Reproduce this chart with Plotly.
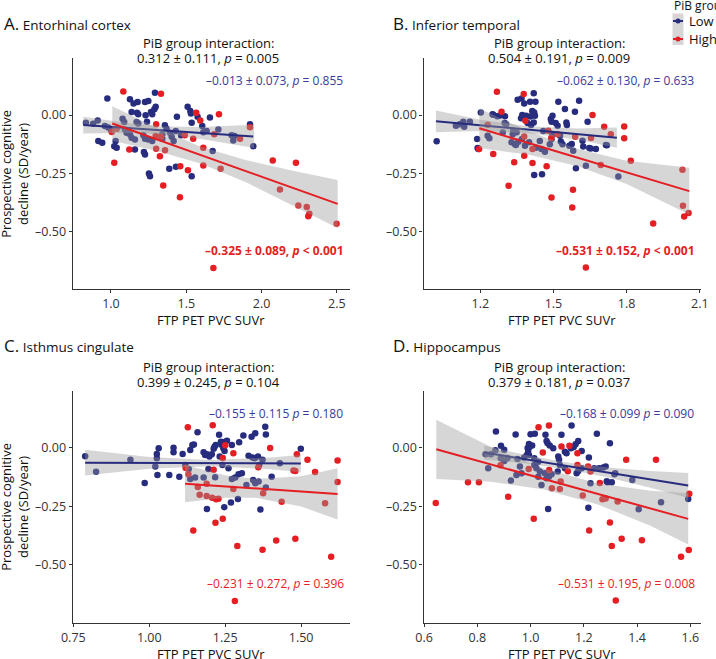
import plotly.graph_objects as go

# ---------------- DATA ----------------
# Panel A: Entorhinal cortex
A_low_x = [0.976,0.916,0.942,1.022,1.038,1.031,1.126,1.150,1.177,1.137,1.173,1.181,1.226,1.248,1.292,1.266,1.274,1.288,1.297,1.230,
           1.239,1.159,1.219,1.226,1.252,1.259,1.387,1.431,1.438,1.509,1.527,1.531,1.536,1.536,1.575,1.657,1.812,1.923,1.945,1.820,
           0.834,0.882,0.912,0.960,0.982,1.000,1.077,1.088,1.093,1.104,1.126,1.137,1.159,1.170,1.181,1.215,1.226,1.248,1.274,1.341,
           1.358,1.369,1.392,1.403,1.416,1.430,1.465,1.635,1.713,1.801,1.675,1.341,1.606,1.613]
A_low_y = [0.071,-0.112,-0.119,-0.134,-0.141,-0.112,0.068,0.050,0.056,0.013,0.010,0.004,0.056,0.060,0.096,0.013,0.003,0.025,0.036,-0.001,
           -0.029,-0.148,-0.159,-0.169,-0.251,-0.263,-0.231,-0.222,-0.007,0.036,0.017,0.007,-0.033,-0.263,-0.007,-0.011,-0.109,-0.040,-0.134,-0.090,
           -0.033,-0.037,-0.023,-0.047,-0.054,-0.062,-0.016,-0.030,-0.062,-0.076,-0.083,-0.097,-0.105,-0.030,-0.036,-0.087,-0.102,-0.105,-0.112,-0.083,
           -0.044,-0.059,-0.076,-0.093,-0.112,-0.069,-0.087,-0.069,-0.062,-0.087,-0.155,-0.102,-0.047,-0.074]
A_high_x = [1.082,1.332,1.122,1.022,1.300,1.347,1.325,1.460,1.511,1.566,1.593,1.717,1.613,1.458,1.680,2.074,2.228,2.498,2.310,2.317,
            1.038,1.005,1.300,1.297,1.332,1.490,1.546,1.613,1.728,1.686,1.857,1.359,1.923,2.122,2.244,2.300]
A_high_y = [0.101,0.092,-0.148,-0.205,-0.040,-0.303,-0.177,-0.220,-0.237,0.010,-0.023,0.003,-0.217,-0.353,-0.657,-0.195,-0.205,-0.467,-0.435,-0.424,
            -0.059,-0.073,-0.145,-0.090,-0.093,-0.087,-0.102,-0.141,-0.231,-0.083,-0.102,-0.151,-0.052,-0.320,-0.389,-0.395]
A_low_fit_x = [0.816, 1.945]
A_low_fit_y = [-0.043, -0.092]
A_low_band_x = [0.816, 1.1, 1.35, 1.6, 1.95]
A_low_band_hi = [-0.007, -0.033, -0.049, -0.051, -0.042]
A_low_band_lo = [-0.079, -0.077, -0.083, -0.103, -0.142]
A_high_fit_x = [1.009, 2.505]
A_high_fit_y = [-0.036, -0.382]
A_high_band_x = [1.009, 1.3, 1.6, 1.9, 2.2, 2.505]
A_high_band_hi = [0.038, -0.053, -0.137, -0.194, -0.238, -0.279]
A_high_band_lo = [-0.110, -0.153, -0.209, -0.290, -0.386, -0.485]

# Panel B: Inferior temporal
B_low_x = [1.021,1.192,1.253,1.202,1.270,1.301,1.353,1.369,1.380,1.404,1.426,1.419,1.413,1.421,1.405,1.424,1.388,1.372,1.367,1.394,
           1.408,1.419,1.520,1.496,1.489,1.492,1.509,1.517,1.547,1.553,1.555,1.605,1.588,1.640,1.719,1.653,1.622,1.575,1.592,1.633,
           1.421,1.453,1.766,1.530,1.300,1.306,1.335,1.349,1.328,1.342,1.356,1.383,1.458,1.444,1.451,1.465,1.492,1.485,1.100,1.116,
           1.130,1.157,1.189,1.187,1.134,1.230,1.237,1.250,1.278,1.292,1.333,1.346,1.371,1.400,1.428,1.496,1.527,1.537,1.565,1.581,
           1.619,1.647,1.674,1.715]
B_low_y = [-0.113,-0.146,0.001,0.011,-0.005,-0.005,0.066,0.071,0.050,0.057,0.057,0.094,0.017,0.011,-0.006,-0.003,-0.003,0.000,-0.014,-0.034,
           -0.043,-0.032,0.057,-0.003,-0.017,-0.029,-0.034,-0.046,0.026,-0.032,-0.043,0.061,0.014,-0.029,-0.130,-0.144,-0.135,-0.124,-0.229,-0.218,
           -0.258,-0.254,-0.264,-0.114,-0.034,-0.039,-0.068,-0.074,-0.117,-0.125,-0.115,-0.132,-0.068,-0.111,-0.146,-0.158,-0.103,-0.125,-0.046,-0.039,
           -0.029,-0.029,-0.142,-0.103,-0.050,-0.089,-0.100,0.004,-0.003,-0.075,-0.082,-0.129,-0.103,-0.117,-0.140,-0.082,-0.089,-0.125,-0.132,-0.153,
           -0.110,-0.142,-0.146,-0.129]
B_high_x = [1.268,1.378,1.287,1.385,1.253,1.195,1.339,1.316,1.414,1.472,1.492,1.580,1.577,1.491,1.660,1.708,1.790,1.790,1.909,1.633,
            2.036,2.054,1.380,1.230,1.380,1.414,1.479,1.517,1.589,1.654,1.694,1.735,1.817,2.029,2.031]
B_high_y = [0.100,0.090,0.014,-0.024,-0.167,-0.146,-0.203,-0.304,-0.206,-0.220,-0.354,-0.321,-0.397,-0.099,0.000,-0.050,-0.049,-0.100,-0.466,-0.655,
            -0.436,-0.421,-0.175,-0.042,-0.092,-0.146,-0.067,-0.082,-0.093,-0.099,-0.215,-0.082,-0.196,-0.235,-0.390]
B_low_fit_x = [1.018, 1.76]
B_low_fit_y = [-0.027, -0.097]
B_low_band_x = [1.018, 1.2, 1.4, 1.6, 1.76]
B_low_band_hi = [0.020, -0.020, -0.048, -0.058, -0.054]
B_low_band_lo = [-0.074, -0.068, -0.078, -0.106, -0.140]
B_high_fit_x = [1.196, 2.057]
B_high_fit_y = [-0.057, -0.327]
B_high_band_x = [1.196, 1.4, 1.6, 1.8, 2.057]
B_high_band_hi = [0.028, -0.071, -0.146, -0.196, -0.227]
B_high_band_lo = [-0.142, -0.171, -0.220, -0.296, -0.427]

# Panel C: Isthmus cingulate
C_low_x = [0.789,0.825,0.938,0.985,1.025,1.025,1.031,1.020,1.027,1.066,1.080,1.080,1.099,1.110,1.135,1.142,1.147,1.159,1.179,1.184,
           1.190,1.198,1.206,1.212,1.215,1.219,1.230,1.236,1.239,1.244,1.248,1.250,1.256,1.272,1.296,1.310,1.337,1.349,1.382,1.384,
           1.327,1.340,1.347,1.358,1.362,1.373,1.232,1.241,1.261,1.272,1.283,1.294,1.305,1.190,1.292,1.366,1.247,1.269,1.349,1.360,
           1.342,1.320,1.135,1.151,1.179,1.195,1.217,1.499,1.430,1.403,1.384,1.119,1.130]
C_low_y = [-0.036,-0.102,-0.051,-0.150,-0.026,-0.044,-0.001,-0.080,-0.116,-0.116,0.001,-0.019,-0.123,-0.026,-0.009,0.013,0.015,0.067,-0.018,-0.030,
           -0.027,-0.037,-0.027,-0.004,0.005,0.013,0.056,0.027,0.013,-0.001,-0.013,0.027,0.031,0.013,0.024,0.053,0.048,0.063,0.091,0.058,
           -0.033,-0.041,-0.044,-0.037,-0.073,-0.051,-0.037,-0.073,-0.087,-0.133,-0.127,-0.113,-0.109,-0.262,-0.219,-0.264,-0.254,-0.234,-0.151,-0.144,
           -0.137,-0.159,-0.133,-0.127,-0.127,-0.090,-0.126,-0.004,-0.066,-0.123,-0.170,-0.073,-0.090]
C_high_x = [1.127,1.209,1.250,1.277,1.242,1.212,1.145,1.218,1.242,1.290,1.373,1.398,1.418,1.481,1.486,1.521,1.546,1.620,1.620,1.599,
            1.282,1.120,1.129,1.166,1.189,1.189,1.207,1.220,1.228,1.277,1.359,1.375,1.436,1.475,1.481,1.579,1.160]
C_high_y = [0.089,0.097,0.011,-0.023,-0.043,-0.094,-0.354,-0.321,-0.304,-0.420,-0.436,0.000,-0.397,-0.389,-0.027,-0.051,-0.103,-0.054,-0.146,-0.466,
            -0.656,-0.086,-0.113,-0.201,-0.154,-0.206,-0.213,-0.220,-0.218,-0.176,-0.083,-0.194,-0.231,-0.097,-0.099,-0.237,-0.167]
C_low_fit_x = [0.789, 1.499]
C_low_fit_y = [-0.063, -0.067]
C_low_band_x = [0.789, 1.0, 1.2, 1.4, 1.499]
C_low_band_hi = [-0.008, -0.039, -0.052, -0.041, -0.030]
C_low_band_lo = [-0.118, -0.089, -0.078, -0.091, -0.104]
C_high_fit_x = [1.118, 1.62]
C_high_fit_y = [-0.153, -0.197]
C_high_band_x = [1.118, 1.25, 1.35, 1.5, 1.62]
C_high_band_hi = [-0.073, -0.117, -0.133, -0.121, -0.087]
C_high_band_lo = [-0.233, -0.213, -0.213, -0.251, -0.307]

# Panel D: Hippocampus
D_low_x = [0.870,0.889,0.901,0.841,0.926,0.944,1.000,1.016,0.994,0.996,1.006,0.989,0.991,0.986,1.056,1.060,1.064,1.072,1.085,1.116,
           1.154,1.129,1.135,1.152,1.162,1.169,1.179,1.192,1.219,1.249,1.239,1.225,1.217,1.066,1.305,1.289,1.315,1.041,1.029,1.035,
           1.054,1.060,1.069,1.079,1.104,1.107,1.110,1.102,1.129,1.173,1.179,1.192,1.014,1.022,1.029,1.014,0.960,0.966,0.947,0.831,
           0.851,0.868,0.888,0.901,0.913,0.951,0.976,0.994,1.257,1.273,1.282,1.298,1.318,1.382,1.406,1.490,1.592,1.286]
D_low_y = [0.070,0.009,-0.008,-0.087,-0.140,0.058,0.059,0.061,0.017,0.004,0.010,0.000,-0.012,-0.030,0.056,0.030,0.020,0.010,-0.001,0.056,
           0.096,-0.016,-0.023,-0.001,0.004,0.016,0.030,-0.013,-0.041,0.061,-0.087,-0.151,-0.256,-0.262,-0.147,-0.147,-0.113,-0.159,-0.123,-0.101,
           -0.109,-0.130,-0.123,-0.113,-0.037,-0.051,-0.073,-0.101,-0.087,-0.108,-0.099,-0.087,-0.073,-0.087,-0.059,-0.044,-0.080,-0.109,-0.116,-0.027,
           -0.027,-0.010,-0.044,-0.056,-0.044,-0.047,-0.041,-0.030,-0.087,-0.084,-0.080,0.020,-0.109,-0.137,-0.263,-0.233,-0.219,-0.143]
D_high_x = [0.644,0.765,0.806,0.916,1.012,1.030,1.069,1.116,1.146,1.176,1.220,1.298,1.305,1.320,1.342,1.359,1.418,1.471,1.565,1.594,
            1.596,1.046,0.887,0.993,1.080,1.110,1.113,1.176,1.196,1.216,1.225,1.270,1.282,1.327,1.070,1.140,1.260]
D_high_y = [-0.236,-0.147,-0.147,-0.209,-0.304,0.089,0.096,0.006,0.009,-0.023,-0.354,-0.320,-0.420,-0.654,-0.389,-0.051,-0.396,-0.051,-0.466,-0.437,
            -0.196,-0.020,-0.074,-0.090,-0.173,-0.176,-0.144,-0.073,-0.204,-0.080,-0.101,-0.220,-0.217,-0.230,-0.095,-0.100,-0.150]
D_low_fit_x = [0.826, 1.592]
D_low_fit_y = [-0.020, -0.161]
D_low_band_x = [0.826, 1.0, 1.15, 1.3, 1.45, 1.592]
D_low_band_hi = [0.010, -0.035, -0.065, -0.085, -0.099, -0.107]
D_low_band_lo = [-0.050, -0.069, -0.095, -0.129, -0.171, -0.215]
D_high_fit_x = [0.646, 1.592]
D_high_fit_y = [-0.006, -0.304]
D_high_band_x = [0.646, 0.85, 1.05, 1.25, 1.45, 1.592]
D_high_band_hi = [0.121, 0.005, -0.088, -0.151, -0.184, -0.194]
D_high_band_lo = [-0.133, -0.145, -0.178, -0.241, -0.334, -0.414]

# Text
panel_letters = ["A.", "B.", "C.", "D."]
panel_names = ["Entorhinal cortex", "Inferior temporal", "Isthmus cingulate", "Hippocampus"]
interaction = ["0.312 ± 0.111, <i>p</i> = 0.005", "0.504 ± 0.191, <i>p</i> = 0.009",
               "0.399 ± 0.245, <i>p</i> = 0.104", "0.379 ± 0.181, <i>p</i> = 0.037"]
low_stats = ["–0.013 ± 0.073, <i>p</i> = 0.855", "–0.062 ± 0.130, <i>p</i> = 0.633",
             "–0.155 ± 0.115 <i>p</i> = 0.180", "–0.168 ± 0.099 <i>p</i> = 0.090"]
high_stats = ["<b>–0.325 ± 0.089, <i>p</i> &lt; 0.001</b>", "<b>–0.531 ± 0.152, <i>p</i> &lt; 0.001</b>",
              "–0.231 ± 0.272, <i>p</i> = 0.396", "–0.531 ± 0.195, <i>p</i> = 0.008"]
x_ticks = [[1.0, 1.5, 2.0, 2.5], [1.2, 1.5, 1.8, 2.1], [0.75, 1.00, 1.25, 1.50], [0.6, 0.8, 1.0, 1.2, 1.4, 1.6]]
x_ticktext = [["1.0", "1.5", "2.0", "2.5"], ["1.2", "1.5", "1.8", "2.1"], ["0.75", "1.00", "1.25", "1.50"],
              ["0.6", "0.8", "1.0", "1.2", "1.4", "1.6"]]
y_ticks = [0.0, -0.25, -0.50]
y_ticktext = ["0.00", "–0.25", "–0.50"]
x_ranges = [[0.746, 2.587], [0.967, 2.105], [0.748, 1.661], [0.598, 1.640]]
y_range = [-0.749, 0.244]
x_title = "FTP PET PVC SUVr"
y_title = "Prospective cognitive<br>decline (SD/year)"

# ---------------- STYLE ----------------
W, H = 716, 659
BLUE = "#272C7E"
RED = "#E41E23"
BLUE_TXT = "#3A3A98"
BAND = "rgba(153,153,153,0.4)"
FONT = "Open Sans"
AXC = "#333333"

# plot areas in pixels: (left, right, top, bottom)
areas = [(72.7, 350, 58.3, 289.3), (423.5, 701, 58.3, 289.3),
         (72.7, 350, 391, 622.7), (423.5, 701, 391, 622.7)]

def px(x):
    return x / W

def py(y):
    return 1 - y / H

panels = [
    (A_low_x, A_low_y, A_high_x, A_high_y, A_low_fit_x, A_low_fit_y, A_low_band_x, A_low_band_hi, A_low_band_lo,
     A_high_fit_x, A_high_fit_y, A_high_band_x, A_high_band_hi, A_high_band_lo),
    (B_low_x, B_low_y, B_high_x, B_high_y, B_low_fit_x, B_low_fit_y, B_low_band_x, B_low_band_hi, B_low_band_lo,
     B_high_fit_x, B_high_fit_y, B_high_band_x, B_high_band_hi, B_high_band_lo),
    (C_low_x, C_low_y, C_high_x, C_high_y, C_low_fit_x, C_low_fit_y, C_low_band_x, C_low_band_hi, C_low_band_lo,
     C_high_fit_x, C_high_fit_y, C_high_band_x, C_high_band_hi, C_high_band_lo),
    (D_low_x, D_low_y, D_high_x, D_high_y, D_low_fit_x, D_low_fit_y, D_low_band_x, D_low_band_hi, D_low_band_lo,
     D_high_fit_x, D_high_fit_y, D_high_band_x, D_high_band_hi, D_high_band_lo),
]

fig = go.Figure()
layout = dict(width=W, height=H, margin=dict(l=0, r=0, t=0, b=0, pad=0, autoexpand=False), showlegend=False,
              template="none",
              plot_bgcolor="white", paper_bgcolor="white", font=dict(family=FONT, color="#222222"))
annotations = []
shapes = []

for i, p in enumerate(panels):
    (lx, ly, hx, hy, lfx, lfy, lbx, lbhi, lblo, hfx, hfy, hbx, hbhi, hblo) = p
    sfx = "" if i == 0 else str(i + 1)
    xa, ya = "x" + sfx, "y" + sfx
    l, r, t, b = areas[i]
    layout["xaxis" + sfx] = dict(domain=[px(l), px(r)], anchor=ya, range=x_ranges[i], automargin=False,
                                 tickvals=x_ticks[i], ticktext=x_ticktext[i],
                                 showline=True, linecolor=AXC, linewidth=1.2, ticks="outside",
                                 ticklen=3, tickcolor=AXC, showgrid=False, zeroline=False,
                                 tickfont=dict(size=12.5, color="#333333"))
    layout["yaxis" + sfx] = dict(domain=[py(b), py(t)], anchor=xa, range=y_range, automargin=False,
                                 tickvals=y_ticks, ticktext=y_ticktext,
                                 showline=True, linecolor=AXC, linewidth=1.2, ticks="outside",
                                 ticklen=3, tickcolor=AXC, showgrid=False, zeroline=False,
                                 tickfont=dict(size=12.5, color="#333333"))
    # points
    fig.add_trace(go.Scatter(x=lx, y=ly, mode="markers", xaxis=xa, yaxis=ya,
                             marker=dict(color=BLUE, size=6.5, line=dict(width=0))))
    fig.add_trace(go.Scatter(x=hx, y=hy, mode="markers", xaxis=xa, yaxis=ya,
                             marker=dict(color=RED, size=6.5, line=dict(width=0))))
    # low band + line
    fig.add_trace(go.Scatter(x=lbx + lbx[::-1], y=lbhi + lblo[::-1], mode="lines", fill="toself",
                             fillcolor=BAND, line=dict(width=0), xaxis=xa, yaxis=ya, hoverinfo="skip"))
    fig.add_trace(go.Scatter(x=lfx, y=lfy, mode="lines", line=dict(color=BLUE, width=2), xaxis=xa, yaxis=ya))
    # high band + line
    fig.add_trace(go.Scatter(x=hbx + hbx[::-1], y=hbhi + hblo[::-1], mode="lines", fill="toself",
                             fillcolor=BAND, line=dict(width=0), xaxis=xa, yaxis=ya, hoverinfo="skip"))
    fig.add_trace(go.Scatter(x=hfx, y=hfy, mode="lines", line=dict(color=RED, width=2), xaxis=xa, yaxis=ya))

    cx = (l + r) / 2
    # panel label
    lab_x = 2 if i % 2 == 0 else 391
    lab_y = 23.5 if i < 2 else 345
    annotations.append(dict(x=px(lab_x), y=py(lab_y), xref="paper", yref="paper", xanchor="left", yanchor="middle",
                            showarrow=False,
                            text='<span style="font-size:17px">' + panel_letters[i] + '</span> ' + panel_names[i],
                            font=dict(size=13.5, color="#111111")))
    # interaction title (two lines)
    l1 = 42.7 if i < 2 else 366.7
    annotations.append(dict(x=px(cx - 3), y=py(l1), xref="paper", yref="paper", xanchor="center", yanchor="middle",
                            showarrow=False, text="PiB group interaction:",
                            font=dict(size=13, color="#111111")))
    annotations.append(dict(x=px(cx - 3), y=py(l1 + 15.6), xref="paper", yref="paper", xanchor="center",
                            yanchor="middle", showarrow=False, text=interaction[i],
                            font=dict(size=13, color="#111111")))
    # stats
    ty = 80.7 if i < 2 else 413
    annotations.append(dict(x=px(r - 5), y=py(ty), xref="paper", yref="paper", xanchor="right", yanchor="middle",
                            showarrow=False, text=low_stats[i], font=dict(size=12, color=BLUE_TXT)))
    annotations.append(dict(x=px(r - 4), y=py(250.7 if i < 2 else 583.3), xref="paper", yref="paper",
                            xanchor="right", yanchor="middle",
                            showarrow=False, text=high_stats[i], font=dict(size=12, color=RED)))
    # x title
    annotations.append(dict(x=px(cx), y=py(b + 31), xref="paper", yref="paper", xanchor="center", yanchor="middle",
                            showarrow=False, text=x_title, font=dict(size=13, color="#111111")))
    # y title (left panels only)
    if i % 2 == 0:
        annotations.append(dict(x=px(15), y=py((t + b) / 2), xref="paper", yref="paper", xanchor="center",
                                yanchor="middle", textangle=-90, showarrow=False, text=y_title,
                                font=dict(size=13, color="#111111")))

# legend (drawn manually, ggplot style)
shapes.append(dict(type="rect", xref="paper", yref="paper", x0=px(672.5), x1=px(683.5), y0=py(45), y1=py(13.5),
                   fillcolor="#D6D6D6", line=dict(width=0), layer="above"))
for name, col, yy in [("Low", BLUE, 21), ("High", RED, 39)]:
    shapes.append(dict(type="line", xref="paper", yref="paper", x0=px(673), x1=px(683), y0=py(yy), y1=py(yy),
                       line=dict(color=col, width=2), layer="above"))
    shapes.append(dict(type="circle", xref="paper", yref="paper", x0=px(675.5), x1=px(680.5), y0=py(yy + 2.5),
                       y1=py(yy - 2.5), fillcolor=col, line=dict(width=0), layer="above"))
    annotations.append(dict(x=px(686.5), y=py(yy), xref="paper", yref="paper", xanchor="left", yanchor="middle",
                            showarrow=False, text=name, font=dict(size=13, color="#111111")))
annotations.append(dict(x=px(672), y=py(6), xref="paper", yref="paper", xanchor="left", yanchor="middle",
                        showarrow=False, text="PiB group", font=dict(size=12, color="#111111")))

layout["annotations"] = annotations
layout["shapes"] = shapes
fig.update_layout(**layout)
fig.write_html("out.html", config={"displayModeBar": False},
               post_script="document.body.style.margin='0px';document.body.style.padding='0px';")
